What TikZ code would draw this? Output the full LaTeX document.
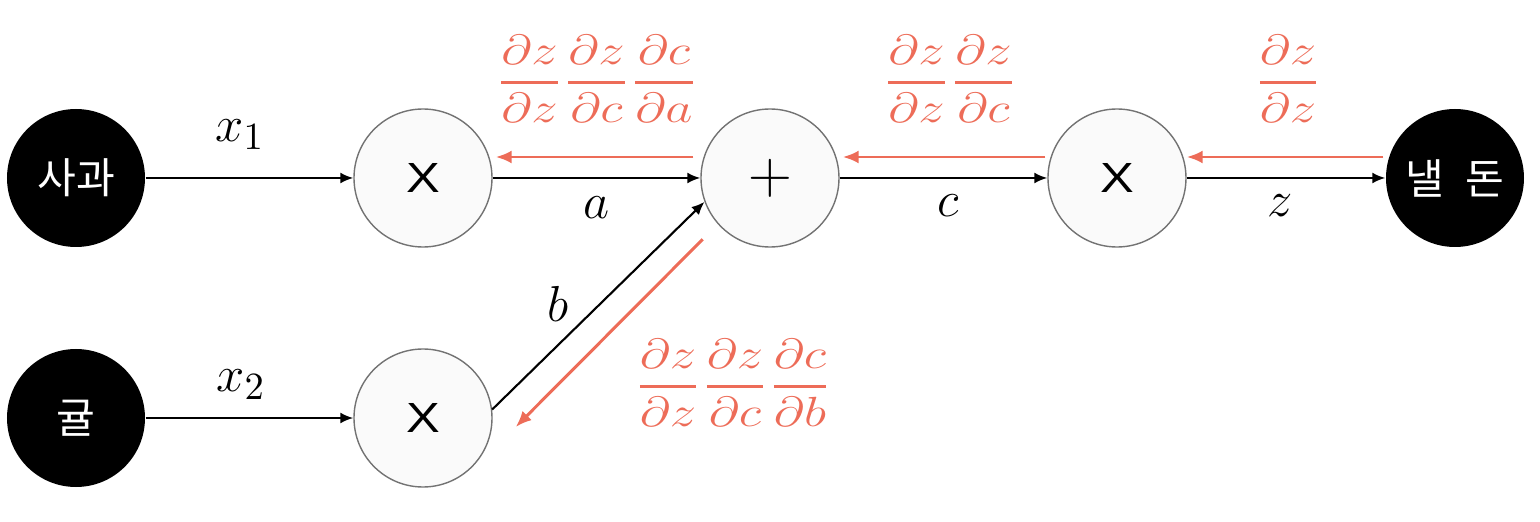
\documentclass[tikz,border=0pt]{standalone}
\usepackage{amsmath}
\usepackage{fontspec}
\setsansfont{Liberation Sans}
\newfontfamily\krfont{Noto Sans CJK KR}
\usetikzlibrary{arrows.meta}
\definecolor{gradred}{RGB}{237,108,88}
\newcommand{\pd}[2]{\genfrac{}{}{0.9pt}{0}{\partial #1}{\partial #2}}
\newcommand{\opX}{\scalebox{1.2}[1]{X}}
\tikzset{
  valnode/.style={circle, fill=black, minimum size=1.38cm, inner sep=0pt, text=white, font=\krfont\fontsize{12}{14}\selectfont},
  opnode/.style={circle, draw=black!55, line width=0.4pt, fill=black!2, minimum size=1.38cm, inner sep=0pt, font=\sffamily\fontsize{12}{14}\selectfont},
  fwdarrow/.style={-{Latex[length=1.3mm,width=1.1mm]}, line width=0.6pt},
  gradarrow/.style={-{Latex[length=1.6mm,width=1.3mm]}, line width=0.85pt, draw=gradred},
  varlbl/.style={font=\fontsize{15.5}{18}\selectfont, inner sep=0pt, anchor=base},
  gradlbl/.style={text=gradred, font=\fontsize{12}{14}\selectfont, inner sep=0pt}
}
\begin{document}
\begin{tikzpicture}
\useasboundingbox (0,0) rectangle (15.4,5.22);
% ---- nodes ----
\node[valnode] (apple) at (0.76,3.44) {사과};
\node[valnode] (orange) at (0.76,1.04) {귤};
\node[opnode] (mul1) at (4.23,3.44) {\opX};
\node[opnode] (mul2) at (4.23,1.04) {\opX};
\node[opnode] (add) at (7.70,3.44) {\fontsize{17}{19}\selectfont$+$};
\node[opnode] (mul3) at (11.17,3.44) {\opX};
\node[valnode] (pay) at (14.55,3.44) {낼\enspace 돈};
% ---- forward ----
\draw[fwdarrow] (apple) -- (mul1);
\draw[fwdarrow] (orange) -- (mul2);
\draw[fwdarrow] (mul1) -- (add);
\draw[fwdarrow] (mul2.7) -- (add.200);
\draw[fwdarrow] (add) -- (mul3);
\draw[fwdarrow] (mul3) -- (pay);
\node[varlbl] (lx1) at (2.40,3.80) {$x_1$};
\node[varlbl] (lx2) at (2.41,1.30) {$x_2$};
\node[varlbl] (la) at (5.97,3.04) {$a$};
\node[varlbl] (lb) at (5.58,2.00) {$b$};
\node[varlbl] (lc) at (9.48,3.05) {$c$};
\node[varlbl] (lz) at (12.80,3.05) {$z$};
% ---- backward ----
\draw[gradarrow] ([shift={(-0.02,0.21)}]pay.west) -- ([shift={(0,0.21)}]mul3.east);
\draw[gradarrow] ([shift={(-0.02,0.21)}]mul3.west) -- ([shift={(0.03,0.21)}]add.east);
\draw[gradarrow] ([shift={(-0.07,0.21)}]add.west) -- ([shift={(0.03,0.21)}]mul1.east);
\draw[gradarrow] ([shift={(-0.18,-0.12)}]add.225) -- ([shift={(0.23,-0.09)}]mul2.east);
\node[gradlbl] (gz) at (12.88,4.43) {\scalebox{1.25}[1]{$\pd{z}{z}$}};
\node[gradlbl] (gc) at (9.50,4.43) {\scalebox{1.25}[1]{$\pd{z}{z}\pd{z}{c}$}};
\node[gradlbl] (ga) at (5.97,4.43) {\scalebox{1.25}[1]{$\pd{z}{z}\pd{z}{c}\pd{c}{a}$}};
\node[gradlbl] (gb) at (7.33,1.39) {\scalebox{1.25}[1]{$\pd{z}{z}\pd{z}{c}\pd{c}{b}$}};
\end{tikzpicture}
\end{document}
